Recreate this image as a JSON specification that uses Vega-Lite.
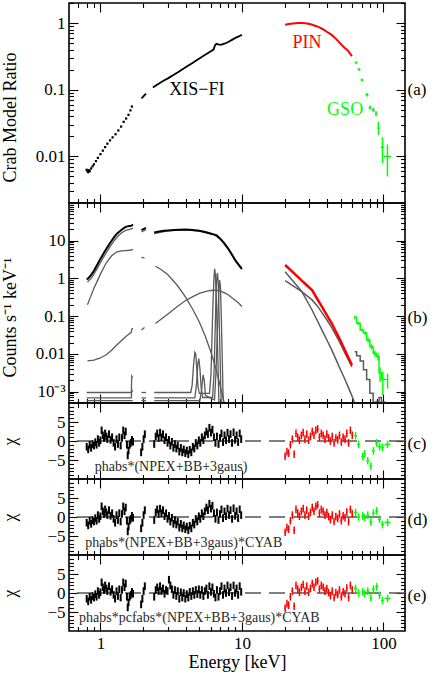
{
"$schema": "https://vega.github.io/schema/vega-lite/v6.json",
"background": "white",
"padding": {"left": 0, "right": 0, "top": 1, "bottom": 0},
"spacing": 0,
"bounds": "flush",
"config": {
  "font": "Liberation Serif",
  "text": {"font": "Liberation Serif"},
  "view": {"stroke": "black", "strokeWidth": 1.6},
  "concat": {"spacing": 0},
  "axis": {"domain": false, "grid": false, "tickColor": "black", "tickWidth": 1.1, "labelColor": "black", "labelFontSize": 17, "labelFont": "Liberation Serif", "titleFont": "Liberation Serif", "titleFontSize": 18, "titleFontWeight": "normal", "titleColor": "black"},
  "axisX": {"labelFont": "Liberation Serif", "titleFont": "Liberation Serif"},
  "axisY": {"labelFont": "Liberation Serif", "titleFont": "Liberation Serif"}
},
"datasets": {
  "xa": [
    {"E":0.80,"r":0.0063,"seg":1},{"E":0.81,"r":0.0060,"seg":1},{"E":0.82,"r":0.0058,"seg":1},{"E":0.83,"r":0.0062,"seg":1},{"E":0.84,"r":0.0060,"seg":1},{"E":0.86,"r":0.0066,"seg":1},{"E":0.88,"r":0.0071,"seg":1},{"E":0.90,"r":0.0076,"seg":1},{"E":0.93,"r":0.0085,"seg":1},{"E":0.96,"r":0.0095,"seg":1},{"E":1.0,"r":0.0108,"seg":1},{"E":1.04,"r":0.0122,"seg":1},{"E":1.08,"r":0.0138,"seg":1},{"E":1.12,"r":0.0155,"seg":1},{"E":1.17,"r":0.0174,"seg":1},{"E":1.22,"r":0.0193,"seg":1},{"E":1.28,"r":0.0215,"seg":1},{"E":1.34,"r":0.0245,"seg":1},{"E":1.40,"r":0.028,"seg":1},{"E":1.46,"r":0.033,"seg":1},{"E":1.52,"r":0.037,"seg":1},{"E":1.58,"r":0.042,"seg":1},{"E":1.63,"r":0.049,"seg":1},{"E":1.67,"r":0.056,"seg":1},
    {"E":1.95,"r":0.074,"seg":2},{"E":2.0,"r":0.078,"seg":2},{"E":2.05,"r":0.083,"seg":2},{"E":2.1,"r":0.087,"seg":2},
    {"E":2.35,"r":0.108,"seg":3},{"E":2.5,"r":0.118,"seg":3},{"E":2.75,"r":0.134,"seg":3},{"E":3.0,"r":0.148,"seg":3},{"E":3.3,"r":0.168,"seg":3},{"E":3.6,"r":0.188,"seg":3},{"E":4.0,"r":0.217,"seg":3},{"E":4.5,"r":0.254,"seg":3},{"E":5.0,"r":0.293,"seg":3},{"E":5.5,"r":0.334,"seg":3},{"E":6.0,"r":0.375,"seg":3},{"E":6.3,"r":0.40,"seg":3},{"E":6.45,"r":0.46,"seg":3},{"E":6.6,"r":0.49,"seg":3},{"E":6.8,"r":0.48,"seg":3},{"E":7.1,"r":0.47,"seg":3},{"E":7.5,"r":0.49,"seg":3},{"E":8.0,"r":0.52,"seg":3},{"E":8.5,"r":0.56,"seg":3},{"E":9.0,"r":0.60,"seg":3},{"E":9.5,"r":0.63,"seg":3},{"E":10.0,"r":0.67,"seg":3}
  ],
  "pa": [
    {"E":20.2,"r":0.945},{"E":21,"r":0.96},{"E":22,"r":0.975},{"E":23,"r":0.988},{"E":24,"r":0.995},{"E":25,"r":1.0},{"E":26.5,"r":1.0},{"E":28,"r":0.99},{"E":29.5,"r":0.975},{"E":31,"r":0.95},{"E":32.5,"r":0.92},{"E":34,"r":0.89},{"E":35.5,"r":0.855},{"E":37,"r":0.815},{"E":38.5,"r":0.775},{"E":40,"r":0.735},{"E":41.5,"r":0.70},{"E":43,"r":0.665},{"E":44.5,"r":0.625},{"E":46,"r":0.585},{"E":47.5,"r":0.545},{"E":49,"r":0.51},{"E":50.5,"r":0.475},{"E":52,"r":0.445},{"E":53.5,"r":0.42},{"E":55,"r":0.40},{"E":56.5,"r":0.38},{"E":58,"r":0.35},{"E":59.9,"r":0.32}
  ],
  "ga": [
    {"E":64.1,"lo":62.6,"hi":65.6,"r":0.255,"rlo":0.245,"rhi":0.265},
    {"E":67.3,"lo":65.6,"hi":69.0,"r":0.202,"rlo":0.192,"rhi":0.212},
    {"E":70.3,"lo":69.0,"hi":72.0,"r":0.14,"rlo":0.133,"rhi":0.148},
    {"E":76.6,"lo":74.5,"hi":78.5,"r":0.084,"rlo":0.079,"rhi":0.089},
    {"E":80.4,"lo":78.5,"hi":82.5,"r":0.054,"rlo":0.050,"rhi":0.058},
    {"E":84.9,"lo":82.5,"hi":87.0,"r":0.050,"rlo":0.046,"rhi":0.054},
    {"E":88.6,"lo":87.0,"hi":90.5,"r":0.044,"rlo":0.040,"rhi":0.048},
    {"E":92.2,"lo":90.5,"hi":94.0,"r":0.0267,"rlo":0.021,"rhi":0.033},
    {"E":98.4,"lo":95.5,"hi":101.5,"r":0.0137,"rlo":0.0079,"rhi":0.0194},
    {"E":106.7,"lo":100.5,"hi":113,"r":0.010,"rlo":0.0050,"rhi":0.0151}
  ],
  "xb": [
    {"E":0.80,"c":0.95,"seg":1},{"E":0.82,"c":1.0,"seg":1},{"E":0.86,"c":1.25,"seg":1},{"E":0.9,"c":1.6,"seg":1},{"E":0.95,"c":2.3,"seg":1},{"E":1.0,"c":3.3,"seg":1},{"E":1.05,"c":4.5,"seg":1},{"E":1.1,"c":6.0,"seg":1},{"E":1.15,"c":7.8,"seg":1},{"E":1.2,"c":10,"seg":1},{"E":1.25,"c":12.5,"seg":1},{"E":1.3,"c":15,"seg":1},{"E":1.35,"c":17,"seg":1},{"E":1.4,"c":19,"seg":1},{"E":1.45,"c":21,"seg":1},{"E":1.5,"c":23,"seg":1},{"E":1.55,"c":24,"seg":1},{"E":1.6,"c":24.5,"seg":1},{"E":1.65,"c":25,"seg":1},{"E":1.7,"c":27,"seg":1},
    {"E":1.95,"c":19,"seg":2},{"E":2.0,"c":20,"seg":2},{"E":2.05,"c":21,"seg":2},{"E":2.1,"c":22,"seg":2},
    {"E":2.4,"c":16.5,"seg":3},{"E":2.6,"c":17.5,"seg":3},{"E":2.8,"c":18.3,"seg":3},{"E":3.0,"c":18.8,"seg":3},{"E":3.3,"c":19.3,"seg":3},{"E":3.6,"c":19.6,"seg":3},{"E":4.0,"c":19.7,"seg":3},{"E":4.5,"c":19.3,"seg":3},{"E":5.0,"c":18.3,"seg":3},{"E":5.5,"c":17,"seg":3},{"E":6.0,"c":15.5,"seg":3},{"E":6.4,"c":14.5,"seg":3},{"E":6.6,"c":14,"seg":3},{"E":7.0,"c":11.5,"seg":3},{"E":7.5,"c":8.6,"seg":3},{"E":8.0,"c":6.2,"seg":3},{"E":8.5,"c":4.3,"seg":3},{"E":9.0,"c":3.0,"seg":3},{"E":9.5,"c":2.3,"seg":3},{"E":10,"c":1.8,"seg":3}
  ],
  "mb": [
    {"comp":"npex1","seg":1,"E":0.81,"c":0.8},{"comp":"npex1","seg":1,"E":0.86,"c":1.0},{"comp":"npex1","seg":1,"E":0.9,"c":1.3},{"comp":"npex1","seg":1,"E":0.95,"c":1.85},{"comp":"npex1","seg":1,"E":1.0,"c":2.6},{"comp":"npex1","seg":1,"E":1.05,"c":3.6},{"comp":"npex1","seg":1,"E":1.1,"c":4.8},{"comp":"npex1","seg":1,"E":1.15,"c":6.3},{"comp":"npex1","seg":1,"E":1.2,"c":8.0},{"comp":"npex1","seg":1,"E":1.25,"c":10},{"comp":"npex1","seg":1,"E":1.3,"c":12},{"comp":"npex1","seg":1,"E":1.35,"c":14},{"comp":"npex1","seg":1,"E":1.4,"c":15.8},{"comp":"npex1","seg":1,"E":1.45,"c":17.3},{"comp":"npex1","seg":1,"E":1.5,"c":18.5},{"comp":"npex1","seg":1,"E":1.55,"c":19.3},{"comp":"npex1","seg":1,"E":1.6,"c":20},{"comp":"npex1","seg":1,"E":1.65,"c":20.5},{"comp":"npex1","seg":1,"E":1.7,"c":21.5},
    {"comp":"npex1","seg":2,"E":1.95,"c":17},{"comp":"npex1","seg":2,"E":2.1,"c":19.5},
    {"comp":"npex1","seg":3,"E":2.4,"c":15.5},{"comp":"npex1","seg":3,"E":3.0,"c":18.2},{"comp":"npex1","seg":3,"E":4.0,"c":19.4},{"comp":"npex1","seg":3,"E":5.0,"c":18.0},{"comp":"npex1","seg":3,"E":6.0,"c":15.2},{"comp":"npex1","seg":3,"E":6.4,"c":14.2},{"comp":"npex1","seg":3,"E":7.0,"c":11.2},{"comp":"npex1","seg":3,"E":8.0,"c":6.0},{"comp":"npex1","seg":3,"E":9.0,"c":2.9},{"comp":"npex1","seg":3,"E":10,"c":1.75},
    {"comp":"bb","seg":1,"E":0.81,"c":0.2},{"comp":"bb","seg":1,"E":0.85,"c":0.32},{"comp":"bb","seg":1,"E":0.9,"c":0.55},{"comp":"bb","seg":1,"E":0.95,"c":0.85},{"comp":"bb","seg":1,"E":1.0,"c":1.3},{"comp":"bb","seg":1,"E":1.1,"c":2.6},{"comp":"bb","seg":1,"E":1.2,"c":4.0},{"comp":"bb","seg":1,"E":1.3,"c":5.0},{"comp":"bb","seg":1,"E":1.4,"c":5.4},{"comp":"bb","seg":1,"E":1.5,"c":5.5},{"comp":"bb","seg":1,"E":1.6,"c":5.6},{"comp":"bb","seg":1,"E":1.7,"c":5.8},
    {"comp":"bb","seg":2,"E":1.95,"c":3.6},{"comp":"bb","seg":2,"E":2.05,"c":3.5},
    {"comp":"bb","seg":3,"E":2.45,"c":2.1},{"comp":"bb","seg":3,"E":2.7,"c":1.7},{"comp":"bb","seg":3,"E":3.0,"c":1.25},{"comp":"bb","seg":3,"E":3.5,"c":0.65},{"comp":"bb","seg":3,"E":4.0,"c":0.32},{"comp":"bb","seg":3,"E":4.5,"c":0.15},{"comp":"bb","seg":3,"E":5.0,"c":0.07},{"comp":"bb","seg":3,"E":5.5,"c":0.03},{"comp":"bb","seg":3,"E":6.0,"c":0.012},{"comp":"bb","seg":3,"E":6.5,"c":0.0045},{"comp":"bb","seg":3,"E":7.0,"c":0.0015},{"comp":"bb","seg":3,"E":7.5,"c":0.0005},{"comp":"bb","seg":3,"E":8.0,"c":0.00015},
    {"comp":"npex2","seg":1,"E":0.81,"c":0.0065},{"comp":"npex2","seg":1,"E":0.9,"c":0.0068},{"comp":"npex2","seg":1,"E":1.0,"c":0.0078},{"comp":"npex2","seg":1,"E":1.1,"c":0.0095},{"comp":"npex2","seg":1,"E":1.2,"c":0.0125},{"comp":"npex2","seg":1,"E":1.3,"c":0.017},{"comp":"npex2","seg":1,"E":1.4,"c":0.022},{"comp":"npex2","seg":1,"E":1.5,"c":0.028},{"comp":"npex2","seg":1,"E":1.6,"c":0.034},{"comp":"npex2","seg":1,"E":1.65,"c":0.037},{"comp":"npex2","seg":1,"E":1.67,"c":0.046},{"comp":"npex2","seg":1,"E":1.7,"c":0.048},
    {"comp":"npex2","seg":2,"E":1.95,"c":0.043},{"comp":"npex2","seg":2,"E":2.05,"c":0.05},
    {"comp":"npex2","seg":3,"E":2.45,"c":0.064},{"comp":"npex2","seg":3,"E":3.0,"c":0.115},{"comp":"npex2","seg":3,"E":3.5,"c":0.18},{"comp":"npex2","seg":3,"E":4.0,"c":0.26},{"comp":"npex2","seg":3,"E":4.5,"c":0.33},{"comp":"npex2","seg":3,"E":5.0,"c":0.40},{"comp":"npex2","seg":3,"E":5.5,"c":0.45},{"comp":"npex2","seg":3,"E":6.0,"c":0.48},{"comp":"npex2","seg":3,"E":6.5,"c":0.49},{"comp":"npex2","seg":3,"E":7.0,"c":0.47},{"comp":"npex2","seg":3,"E":7.5,"c":0.42},{"comp":"npex2","seg":3,"E":8.0,"c":0.37},{"comp":"npex2","seg":3,"E":8.5,"c":0.31},{"comp":"npex2","seg":3,"E":9.0,"c":0.26},{"comp":"npex2","seg":3,"E":9.5,"c":0.22},{"comp":"npex2","seg":3,"E":10,"c":0.18},
    {"comp":"g1","seg":1,"E":0.8,"c":0.00095},{"comp":"g1","seg":1,"E":1.655,"c":0.00095},{"comp":"g1","seg":1,"E":1.665,"c":0.0026},{"comp":"g1","seg":1,"E":1.69,"c":0.0024},
    {"comp":"g1","seg":2,"E":1.95,"c":0.00095},{"comp":"g1","seg":2,"E":2.1,"c":0.00095},
    {"comp":"g1","seg":3,"E":2.4,"c":0.00095},{"comp":"g1","seg":3,"E":4.35,"c":0.00095},{"comp":"g1","seg":3,"E":4.45,"c":0.0015},{"comp":"g1","seg":3,"E":4.55,"c":0.005},{"comp":"g1","seg":3,"E":4.65,"c":0.011},{"comp":"g1","seg":3,"E":4.72,"c":0.01},{"comp":"g1","seg":3,"E":4.8,"c":0.004},{"comp":"g1","seg":3,"E":4.9,"c":0.0013},{"comp":"g1","seg":3,"E":5.0,"c":0.0009},{"comp":"g1","seg":3,"E":5.9,"c":0.0009},{"comp":"g1","seg":3,"E":6.05,"c":0.003},{"comp":"g1","seg":3,"E":6.15,"c":0.03},{"comp":"g1","seg":3,"E":6.25,"c":0.25},{"comp":"g1","seg":3,"E":6.35,"c":1.1},{"comp":"g1","seg":3,"E":6.42,"c":1.8},{"comp":"g1","seg":3,"E":6.5,"c":1.2},{"comp":"g1","seg":3,"E":6.6,"c":0.25},{"comp":"g1","seg":3,"E":6.7,"c":0.03},{"comp":"g1","seg":3,"E":6.8,"c":0.003},{"comp":"g1","seg":3,"E":6.9,"c":0.0003},
    {"comp":"g2","seg":1,"E":0.8,"c":0.00068},{"comp":"g2","seg":1,"E":1.655,"c":0.00068},{"comp":"g2","seg":1,"E":1.665,"c":0.0011},{"comp":"g2","seg":1,"E":1.69,"c":0.001},
    {"comp":"g2","seg":2,"E":1.95,"c":0.00068},{"comp":"g2","seg":2,"E":2.1,"c":0.00068},
    {"comp":"g2","seg":3,"E":2.4,"c":0.00068},{"comp":"g2","seg":3,"E":4.65,"c":0.00068},{"comp":"g2","seg":3,"E":4.78,"c":0.0016},{"comp":"g2","seg":3,"E":4.88,"c":0.0055},{"comp":"g2","seg":3,"E":4.96,"c":0.0075},{"comp":"g2","seg":3,"E":5.05,"c":0.004},{"comp":"g2","seg":3,"E":5.15,"c":0.0013},{"comp":"g2","seg":3,"E":5.28,"c":0.0007},{"comp":"g2","seg":3,"E":6.2,"c":0.0007},{"comp":"g2","seg":3,"E":6.35,"c":0.003},{"comp":"g2","seg":3,"E":6.48,"c":0.05},{"comp":"g2","seg":3,"E":6.58,"c":0.5},{"comp":"g2","seg":3,"E":6.66,"c":1.2},{"comp":"g2","seg":3,"E":6.72,"c":1.4},{"comp":"g2","seg":3,"E":6.8,"c":0.8},{"comp":"g2","seg":3,"E":6.9,"c":0.1},{"comp":"g2","seg":3,"E":7.0,"c":0.01},{"comp":"g2","seg":3,"E":7.1,"c":0.001},{"comp":"g2","seg":3,"E":7.2,"c":0.0002},
    {"comp":"g3","seg":1,"E":0.8,"c":0.00058},{"comp":"g3","seg":1,"E":1.69,"c":0.00058},
    {"comp":"g3","seg":2,"E":1.95,"c":0.00058},{"comp":"g3","seg":2,"E":2.1,"c":0.00058},
    {"comp":"g3","seg":3,"E":2.4,"c":0.00058},{"comp":"g3","seg":3,"E":5.05,"c":0.00058},{"comp":"g3","seg":3,"E":5.2,"c":0.0012},{"comp":"g3","seg":3,"E":5.32,"c":0.0028},{"comp":"g3","seg":3,"E":5.42,"c":0.002},{"comp":"g3","seg":3,"E":5.52,"c":0.0008},{"comp":"g3","seg":3,"E":6.4,"c":0.0006},{"comp":"g3","seg":3,"E":6.55,"c":0.003},{"comp":"g3","seg":3,"E":6.72,"c":0.05},{"comp":"g3","seg":3,"E":6.86,"c":0.4},{"comp":"g3","seg":3,"E":6.96,"c":0.9},{"comp":"g3","seg":3,"E":7.05,"c":0.6},{"comp":"g3","seg":3,"E":7.15,"c":0.1},{"comp":"g3","seg":3,"E":7.25,"c":0.01},{"comp":"g3","seg":3,"E":7.35,"c":0.001},{"comp":"g3","seg":3,"E":7.45,"c":0.0002}
  ],
  "pb": [
    {"E":20.2,"c":2.27},{"E":22,"c":1.68},{"E":24,"c":1.24},{"E":26.5,"c":0.88},{"E":29,"c":0.64},{"E":31.3,"c":0.49},{"E":34,"c":0.29},{"E":37,"c":0.171},{"E":40,"c":0.104},{"E":43.1,"c":0.065},{"E":46,"c":0.040},{"E":48.5,"c":0.027},{"E":50.8,"c":0.0189},{"E":55,"c":0.010},{"E":59.9,"c":0.0051}
  ],
  "pm": [
    {"comp":"p1","E":20.2,"c":1.5},{"comp":"p1","E":22,"c":1.03},{"comp":"p1","E":24,"c":0.70},{"comp":"p1","E":26.5,"c":0.45},{"comp":"p1","E":29,"c":0.245},{"comp":"p1","E":31.3,"c":0.146},{"comp":"p1","E":34,"c":0.078},{"comp":"p1","E":37,"c":0.041},{"comp":"p1","E":40,"c":0.0227},{"comp":"p1","E":43.1,"c":0.0128},{"comp":"p1","E":46,"c":0.0074},{"comp":"p1","E":49,"c":0.0043},{"comp":"p1","E":53.5,"c":0.0021},{"comp":"p1","E":57,"c":0.0012},{"comp":"p1","E":61.5,"c":0.0006},{"comp":"p1","E":63,"c":0.00045},
    {"comp":"p2","E":20.2,"c":0.87},{"comp":"p2","E":22,"c":0.71},{"comp":"p2","E":24,"c":0.575},{"comp":"p2","E":26.5,"c":0.45},{"comp":"p2","E":29,"c":0.34},{"comp":"p2","E":31.3,"c":0.27},{"comp":"p2","E":34,"c":0.19},{"comp":"p2","E":37,"c":0.12},{"comp":"p2","E":40,"c":0.078},{"comp":"p2","E":43.1,"c":0.05},{"comp":"p2","E":46,"c":0.032},{"comp":"p2","E":48.5,"c":0.022},{"comp":"p2","E":50.8,"c":0.0155},{"comp":"p2","E":55,"c":0.0085},{"comp":"p2","E":59.9,"c":0.0045}
  ],
  "gb": [
    {"E":62.6,"c":0.0935,"clo":0.086,"chi":0.101},
    {"E":66.7,"c":0.065,"clo":0.059,"chi":0.071},
    {"E":70.3,"c":0.043,"clo":0.039,"chi":0.047},
    {"E":74.2,"c":0.0357,"clo":0.032,"chi":0.040},
    {"E":78.0,"c":0.0235,"clo":0.020,"chi":0.027},
    {"E":82.3,"c":0.0156,"clo":0.013,"chi":0.018},
    {"E":86.9,"c":0.0104,"clo":0.0085,"chi":0.0123},
    {"E":91.6,"c":0.0085,"clo":0.0068,"chi":0.0102},
    {"E":94.6,"c":0.0031,"clo":0.0018,"chi":0.0044},
    {"E":99.0,"c":0.0021,"clo":0.0008,"chi":0.0034},
    {"E":107.0,"c":0.0021,"clo":0.0012,"chi":0.003}
  ],
  "gm": [
    {"E":62.6,"c":0.0114},{"E":66.7,"c":0.009},{"E":70.3,"c":0.0065},{"E":74.2,"c":0.0038},{"E":78.0,"c":0.0021},{"E":82.3,"c":0.0009},{"E":86.9,"c":0.00052},{"E":91.6,"c":0.00055},{"E":94.6,"c":0.0007},{"E":99.0,"c":0.00052},{"E":107.0,"c":0.0004}
  ],
  "rx": [
    {"E":0.80,"c":-1.5,"e":-1.5,"s":1},{"E":0.82,"c":-2.2,"e":-2.2,"s":1},{"E":0.84,"c":-1.0,"e":-1.0,"s":1},{"E":0.86,"c":-1.8,"e":-1.8,"s":1},{"E":0.88,"c":-0.8,"e":-0.8,"s":1},{"E":0.90,"c":-1.2,"e":-1.2,"s":1},{"E":0.92,"c":-0.3,"e":-0.3,"s":1},{"E":0.94,"c":-1.0,"e":-1.0,"s":1},{"E":0.96,"c":0.5,"e":0.5,"s":1},{"E":0.98,"c":-0.5,"e":-0.5,"s":1},
    {"E":1.00,"c":0.2,"e":0.2,"s":1},{"E":1.02,"c":2.8,"e":2.8,"s":1},{"E":1.04,"c":1.5,"e":1.5,"s":1},{"E":1.06,"c":0.8,"e":0.8,"s":1},{"E":1.08,"c":2.0,"e":2.0,"s":1},{"E":1.10,"c":1.2,"e":1.2,"s":1},{"E":1.12,"c":0.5,"e":0.5,"s":1},{"E":1.15,"c":1.8,"e":1.8,"s":1},{"E":1.18,"c":0.3,"e":0.3,"s":1},{"E":1.21,"c":1.0,"e":1.0,"s":1},
    {"E":1.24,"c":-0.5,"e":-0.5,"s":1},{"E":1.27,"c":-1.5,"e":-1.5,"s":1},{"E":1.30,"c":0.5,"e":0.5,"s":1},{"E":1.33,"c":-0.8,"e":-0.8,"s":1},{"E":1.36,"c":1.0,"e":1.0,"s":1},{"E":1.39,"c":-1.2,"e":-1.2,"s":1},{"E":1.42,"c":0.8,"e":0.8,"s":1},{"E":1.45,"c":2.8,"e":2.8,"s":1},{"E":1.48,"c":1.5,"e":1.5,"s":1},{"E":1.51,"c":2.5,"e":2.5,"s":1},
    {"E":1.54,"c":-1.0,"e":-1.0,"s":1},{"E":1.56,"c":-3.8,"e":-3.8,"s":1},{"E":1.58,"c":-2.5,"e":-2.5,"s":1},{"E":1.61,"c":-1.0,"e":-1.0,"s":1},{"E":1.64,"c":-0.5,"e":-0.5,"s":1},{"E":1.67,"c":0.3,"e":0.3,"s":1},{"E":1.70,"c":-0.2,"e":-0.2,"s":1},
    {"E":1.94,"c":-3.0,"e":-3.0,"s":1},{"E":1.98,"c":-1.5,"e":-1.5,"s":1},{"E":2.02,"c":0.5,"e":0.5,"s":1},{"E":2.06,"c":1.8,"e":1.8,"s":1},
    {"E":2.40,"c":-0.8,"e":-1.0,"s":1},{"E":2.46,"c":1.2,"e":0.8,"s":1},{"E":2.52,"c":2.0,"e":1.5,"s":1},{"E":2.58,"c":0.8,"e":0.5,"s":1},{"E":2.64,"c":2.2,"e":1.8,"s":1},{"E":2.70,"c":1.0,"e":0.5,"s":1},{"E":2.77,"c":1.8,"e":1.2,"s":1},{"E":2.84,"c":0.2,"e":-0.2,"s":1},{"E":2.91,"c":1.0,"e":0.8,"s":1},{"E":2.98,"c":-0.5,"e":0.5,"s":1},
    {"E":3.05,"c":0.3,"e":3.5,"s":1},{"E":3.12,"c":-1.2,"e":2.0,"s":1},{"E":3.20,"c":-0.2,"e":1.0,"s":1},{"E":3.28,"c":-1.8,"e":-0.5,"s":1},{"E":3.36,"c":-0.8,"e":0.8,"s":1},{"E":3.44,"c":-2.0,"e":-0.8,"s":1},{"E":3.52,"c":-1.2,"e":0.5,"s":1},{"E":3.61,"c":-2.8,"e":-1.5,"s":1},{"E":3.70,"c":-1.8,"e":0.2,"s":1},{"E":3.79,"c":-3.0,"e":-1.2,"s":1},
    {"E":3.88,"c":-2.2,"e":0.0,"s":1},{"E":3.98,"c":-3.2,"e":-1.5,"s":1},{"E":4.08,"c":-2.5,"e":-0.3,"s":1},{"E":4.18,"c":-3.5,"e":-1.2,"s":1},{"E":4.28,"c":-2.3,"e":0.3,"s":1},{"E":4.39,"c":-3.0,"e":-0.8,"s":1},{"E":4.50,"c":-1.5,"e":0.5,"s":1},{"E":4.61,"c":-2.0,"e":-0.5,"s":1},{"E":4.72,"c":-0.5,"e":0.8,"s":1},{"E":4.84,"c":-1.2,"e":-0.3,"s":1},
    {"E":4.96,"c":0.2,"e":1.0,"s":1},{"E":5.08,"c":-0.5,"e":-0.5,"s":1},{"E":5.21,"c":1.0,"e":0.8,"s":1},{"E":5.34,"c":0.2,"e":-0.8,"s":1},{"E":5.47,"c":1.5,"e":0.5,"s":1},{"E":5.61,"c":2.5,"e":1.2,"s":1},{"E":5.75,"c":1.8,"e":-0.5,"s":1},{"E":5.89,"c":3.5,"e":1.8,"s":1},{"E":6.04,"c":2.2,"e":0.3,"s":1},{"E":6.19,"c":3.0,"e":1.5,"s":1},
    {"E":6.34,"c":1.0,"e":-0.2,"s":1},{"E":6.50,"c":-0.5,"e":-1.2,"s":1},{"E":6.66,"c":1.2,"e":0.8,"s":1},{"E":6.83,"c":-0.8,"e":-1.0,"s":1},{"E":7.00,"c":0.8,"e":0.5,"s":1},{"E":7.17,"c":2.0,"e":1.8,"s":1},{"E":7.35,"c":-0.3,"e":-0.5,"s":1},{"E":7.53,"c":1.5,"e":1.2,"s":1},{"E":7.72,"c":0.2,"e":0.0,"s":1},{"E":7.91,"c":2.2,"e":2.0,"s":1},
    {"E":8.11,"c":0.5,"e":0.2,"s":1},{"E":8.31,"c":1.8,"e":1.5,"s":1},{"E":8.52,"c":-0.5,"e":-0.8,"s":1},{"E":8.73,"c":2.3,"e":2.0,"s":1},{"E":8.95,"c":0.3,"e":0.0,"s":1},{"E":9.17,"c":1.5,"e":1.2,"s":1},{"E":9.40,"c":-0.3,"e":-0.5,"s":1},{"E":9.64,"c":2.0,"e":1.8,"s":1},{"E":9.88,"c":0.5,"e":0.3,"s":1}
  ],
  "rp": [
    {"E":20.2,"lo":19.9,"hi":20.5,"c":-4.0,"d":-4.0,"s":1},{"E":20.8,"lo":20.5,"hi":21.1,"c":-2.8,"d":-2.8,"s":1},{"E":21.4,"lo":21.1,"hi":21.7,"c":-3.2,"d":-3.2,"s":1},{"E":22.0,"lo":21.7,"hi":22.35,"c":-1.0,"d":-1.0,"s":1},{"E":22.7,"lo":22.35,"hi":23.05,"c":0.5,"d":0.5,"s":1},{"E":23.4,"lo":23.05,"hi":23.75,"c":-3.5,"d":-3.5,"s":1},{"E":24.1,"lo":23.75,"hi":24.45,"c":2.0,"d":2.0,"s":1},{"E":24.8,"lo":24.45,"hi":25.15,"c":1.0,"d":1.0,"s":1},{"E":25.5,"lo":25.15,"hi":25.9,"c":0.2,"d":0.2,"s":1},{"E":26.3,"lo":25.9,"hi":26.7,"c":1.5,"d":1.5,"s":1},
    {"E":27.1,"lo":26.7,"hi":27.5,"c":2.2,"d":2.2,"s":1},{"E":27.9,"lo":27.5,"hi":28.3,"c":0.5,"d":0.5,"s":1},{"E":28.7,"lo":28.3,"hi":29.15,"c":1.8,"d":1.8,"s":1},{"E":29.6,"lo":29.15,"hi":30.05,"c":0.2,"d":0.2,"s":1},{"E":30.5,"lo":30.05,"hi":30.95,"c":1.2,"d":1.2,"s":1},{"E":31.4,"lo":30.95,"hi":31.85,"c":2.5,"d":2.5,"s":1},{"E":32.3,"lo":31.85,"hi":32.8,"c":1.5,"d":1.5,"s":1},{"E":33.3,"lo":32.8,"hi":33.8,"c":2.8,"d":2.8,"s":1},{"E":34.3,"lo":33.8,"hi":34.8,"c":3.2,"d":3.2,"s":1},{"E":35.3,"lo":34.8,"hi":35.85,"c":1.0,"d":1.0,"s":1},
    {"E":36.4,"lo":35.85,"hi":36.95,"c":2.0,"d":2.0,"s":1},{"E":37.5,"lo":36.95,"hi":38.05,"c":1.5,"d":1.5,"s":1},{"E":38.6,"lo":38.05,"hi":39.2,"c":0.5,"d":0.5,"s":1},{"E":39.8,"lo":39.2,"hi":40.4,"c":1.8,"d":1.2,"s":1},{"E":41.0,"lo":40.4,"hi":41.6,"c":0.8,"d":0.1,"s":1},{"E":42.2,"lo":41.6,"hi":42.85,"c":0.0,"d":-0.7,"s":1},{"E":43.5,"lo":42.85,"hi":44.15,"c":1.2,"d":0.5,"s":1},{"E":44.8,"lo":44.15,"hi":45.45,"c":-0.5,"d":-1.2,"s":1},{"E":46.1,"lo":45.45,"hi":46.8,"c":0.8,"d":0.1,"s":1},{"E":47.5,"lo":46.8,"hi":48.2,"c":0.3,"d":-0.4,"s":1},
    {"E":48.9,"lo":48.2,"hi":49.65,"c":1.5,"d":0.8,"s":1},{"E":50.4,"lo":49.65,"hi":51.15,"c":-0.3,"d":-1.0,"s":1},{"E":51.9,"lo":51.15,"hi":52.7,"c":1.0,"d":0.3,"s":1},{"E":53.5,"lo":52.7,"hi":54.3,"c":0.5,"d":-0.2,"s":1},{"E":55.1,"lo":54.3,"hi":55.9,"c":2.0,"d":1.3,"s":1},{"E":56.7,"lo":55.9,"hi":57.55,"c":-0.5,"d":-1.2,"s":1},{"E":58.4,"lo":57.55,"hi":59.3,"c":2.8,"d":2.0,"s":1},{"E":60.2,"lo":59.3,"hi":61.1,"c":1.5,"d":0.8,"s":1}
  ],
  "rg": [
    {"E":63.5,"lo":62.0,"hi":65.0,"c":1.4,"d":1.2,"s":1},
    {"E":66.7,"lo":65.0,"hi":68.5,"c":-0.9,"d":0.0,"s":1},
    {"E":71.4,"lo":69.8,"hi":73.0,"c":-4.1,"d":0.3,"s":1},
    {"E":73.5,"lo":72.0,"hi":75.2,"c":-3.4,"d":-0.2,"s":1},
    {"E":77.5,"lo":75.8,"hi":79.2,"c":-5.2,"d":0.5,"s":1},
    {"E":81.5,"lo":79.6,"hi":83.4,"c":-6.6,"d":-1.3,"s":1},
    {"E":84.9,"lo":83.0,"hi":86.8,"c":-2.6,"d":1.0,"s":1},
    {"E":89.6,"lo":87.5,"hi":91.7,"c":-0.5,"d":1.6,"s":1},
    {"E":93.9,"lo":91.7,"hi":96.1,"c":-1.5,"d":-0.6,"s":1},
    {"E":98.4,"lo":96.1,"hi":100.7,"c":-1.7,"d":-2.0,"s":1},
    {"E":107.0,"lo":102.0,"hi":112.0,"c":-0.9,"d":-1.4,"s":1}
  ]
},
"vconcat": [
  {
    "width": 336, "height": 200,
    "layer": [
      {"data": {"name": "xa"}, "transform": [{"filter": "datum.seg > 1"}],
       "mark": {"type": "line", "color": "black", "strokeWidth": 1.8, "clip": true},
       "encoding": {
         "x": {"field": "E", "type": "quantitative", "scale": {"type": "log", "domain": [0.6, 142], "nice": false}, "axis": {"orient": "bottom", "values": [1, 10, 100], "tickSize": -9, "labels": false, "title": null}},
         "y": {"field": "r", "type": "quantitative", "scale": {"type": "log", "domain": [0.002, 2], "nice": false}, "axis": {"orient": "left", "values": [0.01, 0.1, 1], "tickSize": -9, "labelPadding": 13, "format": "~g", "labelFont": "Liberation Serif", "titleFont": "Liberation Serif", "title": "Crab Model Ratio", "titleX": -50, "titleY": 114}},
         "detail": {"field": "seg"}}},
      {"data": {"name": "xa"}, "transform": [{"filter": "datum.seg == 1"}],
       "mark": {"type": "square", "size": 5, "color": "black", "opacity": 1, "clip": true},
       "encoding": {
         "x": {"field": "E", "type": "quantitative", "scale": {"type": "log", "domain": [0.6, 142], "nice": false}, "axis": null},
         "y": {"field": "r", "type": "quantitative", "scale": {"type": "log", "domain": [0.002, 2], "nice": false}, "axis": null}}},
      {"data": {"name": "pa"},
       "mark": {"type": "line", "color": "#ff0000", "strokeWidth": 2, "clip": true},
       "encoding": {
         "x": {"field": "E", "type": "quantitative", "scale": {"type": "log", "domain": [0.6, 142], "nice": false}, "axis": {"orient": "top", "values": [1, 10, 100], "tickSize": -9, "labels": false, "title": null}},
         "y": {"field": "r", "type": "quantitative", "scale": {"type": "log", "domain": [0.002, 2], "nice": false}, "axis": {"orient": "right", "values": [0.01, 0.1, 1], "tickSize": -9, "labels": false, "title": null}}}},
      {"data": {"name": "ga"},
       "mark": {"type": "rule", "color": "#00ff00", "strokeWidth": 1.5},
       "encoding": {
         "x": {"field": "lo", "type": "quantitative", "scale": {"type": "log", "domain": [0.6, 142], "nice": false}, "axis": {"orient": "bottom", "values": [0.7, 0.8, 0.9, 2, 3, 4, 5, 6, 7, 8, 9, 20, 30, 40, 50, 60, 70, 80, 90], "tickSize": -4.5, "labels": false, "title": null}},
         "x2": {"field": "hi"},
         "y": {"field": "r", "type": "quantitative", "scale": {"type": "log", "domain": [0.002, 2], "nice": false}, "axis": {"orient": "left", "values": [0.002, 0.003, 0.004, 0.005, 0.006, 0.007, 0.008, 0.009, 0.02, 0.03, 0.04, 0.05, 0.06, 0.07, 0.08, 0.09, 0.2, 0.3, 0.4, 0.5, 0.6, 0.7, 0.8, 0.9, 2], "tickSize": -4.5, "labels": false, "title": null}}}},
      {"data": {"name": "ga"},
       "mark": {"type": "rule", "color": "#00ff00", "strokeWidth": 1.5},
       "encoding": {
         "x": {"field": "E", "type": "quantitative", "scale": {"type": "log", "domain": [0.6, 142], "nice": false}, "axis": {"orient": "top", "values": [0.7, 0.8, 0.9, 2, 3, 4, 5, 6, 7, 8, 9, 20, 30, 40, 50, 60, 70, 80, 90], "tickSize": -4.5, "labels": false, "title": null}},
         "y": {"field": "rlo", "type": "quantitative", "scale": {"type": "log", "domain": [0.002, 2], "nice": false}, "axis": {"orient": "right", "values": [0.002, 0.003, 0.004, 0.005, 0.006, 0.007, 0.008, 0.009, 0.02, 0.03, 0.04, 0.05, 0.06, 0.07, 0.08, 0.09, 0.2, 0.3, 0.4, 0.5, 0.6, 0.7, 0.8, 0.9, 2], "tickSize": -4.5, "labels": false, "title": null}},
         "y2": {"field": "rhi"}}},
      {"data": {"values": [{"t": "XIS−FI"}]},
       "mark": {"type": "text", "font": "Liberation Serif", "fontSize": 18, "color": "black", "align": "center", "baseline": "middle"},
       "encoding": {"x": {"datum": 4.8, "type": "quantitative", "scale": {"type": "log", "domain": [0.6, 142], "nice": false}, "axis": null}, "y": {"datum": 0.098, "type": "quantitative", "scale": {"type": "log", "domain": [0.002, 2], "nice": false}, "axis": null}, "text": {"field": "t"}}},
      {"data": {"values": [{"t": "PIN"}]},
       "mark": {"type": "text", "font": "Liberation Serif", "fontSize": 18, "color": "#ff0000", "align": "center", "baseline": "middle"},
       "encoding": {"x": {"datum": 28.8, "type": "quantitative", "scale": {"type": "log", "domain": [0.6, 142], "nice": false}, "axis": null}, "y": {"datum": 0.5, "type": "quantitative", "scale": {"type": "log", "domain": [0.002, 2], "nice": false}, "axis": null}, "text": {"field": "t"}}},
      {"data": {"values": [{"t": "GSO"}]},
       "mark": {"type": "text", "font": "Liberation Serif", "fontSize": 18, "color": "#00ff00", "align": "center", "baseline": "middle"},
       "encoding": {"x": {"datum": 53.6, "type": "quantitative", "scale": {"type": "log", "domain": [0.6, 142], "nice": false}, "axis": null}, "y": {"datum": 0.049, "type": "quantitative", "scale": {"type": "log", "domain": [0.002, 2], "nice": false}, "axis": null}, "text": {"field": "t"}}},
      {"data": {"values": [{"t": "(a)"}]},
       "mark": {"type": "text", "font": "Liberation Serif", "fontSize": 17, "color": "black", "align": "left", "baseline": "middle"},
       "encoding": {"x": {"datum": 148, "type": "quantitative", "scale": {"type": "log", "domain": [0.6, 142], "nice": false}, "axis": null}, "y": {"datum": 0.1, "type": "quantitative", "scale": {"type": "log", "domain": [0.002, 2], "nice": false}, "axis": null}, "text": {"field": "t"}}}
    ],
    "resolve": {"axis": {"x": "independent", "y": "independent"}}
  },
  {
    "width": 336, "height": 200,
    "layer": [
      {"data": {"name": "mb"},
       "mark": {"type": "line", "color": "#5a5a5a", "strokeWidth": 1.3, "clip": true},
       "encoding": {
         "x": {"field": "E", "type": "quantitative", "scale": {"type": "log", "domain": [0.6, 142], "nice": false}, "axis": {"orient": "top", "values": [1, 10, 100], "tickSize": -9, "labels": false, "title": null}},
         "y": {"field": "c", "type": "quantitative", "scale": {"type": "log", "domain": [0.0005, 100], "nice": false}, "axis": {"orient": "right", "values": [0.001, 0.01, 0.1, 1, 10], "tickSize": -9, "labels": false, "title": null}},
         "detail": [{"field": "comp"}, {"field": "seg"}]}},
      {"data": {"name": "xb"},
       "mark": {"type": "line", "color": "black", "strokeWidth": 2, "clip": true},
       "encoding": {
         "x": {"field": "E", "type": "quantitative", "scale": {"type": "log", "domain": [0.6, 142], "nice": false}, "axis": {"orient": "bottom", "values": [1, 10, 100], "tickSize": -9, "labels": false, "title": null}},
         "y": {"field": "c", "type": "quantitative", "scale": {"type": "log", "domain": [0.0005, 100], "nice": false}, "axis": {"orient": "left", "values": [0.001, 0.01, 0.1, 1, 10], "tickSize": -9, "labelPadding": 13, "labelFont": "Liberation Serif", "titleFont": "Liberation Serif", "labelExpr": "datum.value < 0.005 ? '10⁻³' : format(datum.value, '~g')", "title": "Counts s⁻¹ keV⁻¹", "titleX": -50, "titleY": 114}},
         "detail": {"field": "seg"}}},
      {"data": {"name": "pm"},
       "mark": {"type": "line", "color": "#5a5a5a", "strokeWidth": 1.5, "clip": true},
       "encoding": {
         "x": {"field": "E", "type": "quantitative", "scale": {"type": "log", "domain": [0.6, 142], "nice": false}, "axis": {"orient": "top", "values": [0.7, 0.8, 0.9, 2, 3, 4, 5, 6, 7, 8, 9, 20, 30, 40, 50, 60, 70, 80, 90], "tickSize": -4.5, "labels": false, "title": null}},
         "y": {"field": "c", "type": "quantitative", "scale": {"type": "log", "domain": [0.0005, 100], "nice": false}, "axis": {"orient": "right", "values": [0.0006, 0.0007, 0.0008, 0.0009, 0.002, 0.003, 0.004, 0.005, 0.006, 0.007, 0.008, 0.009, 0.02, 0.03, 0.04, 0.05, 0.06, 0.07, 0.08, 0.09, 0.2, 0.3, 0.4, 0.5, 0.6, 0.7, 0.8, 0.9, 2, 3, 4, 5, 6, 7, 8, 9, 20, 30, 40, 50, 60, 70, 80, 90], "tickSize": -4.5, "labels": false, "title": null}},
         "detail": {"field": "comp"}}},
      {"data": {"name": "pb"},
       "mark": {"type": "line", "color": "#ff0000", "strokeWidth": 2.5, "clip": true},
       "encoding": {
         "x": {"field": "E", "type": "quantitative", "scale": {"type": "log", "domain": [0.6, 142], "nice": false}, "axis": {"orient": "bottom", "values": [0.7, 0.8, 0.9, 2, 3, 4, 5, 6, 7, 8, 9, 20, 30, 40, 50, 60, 70, 80, 90], "tickSize": -4.5, "labels": false, "title": null}},
         "y": {"field": "c", "type": "quantitative", "scale": {"type": "log", "domain": [0.0005, 100], "nice": false}, "axis": {"orient": "left", "values": [0.0006, 0.0007, 0.0008, 0.0009, 0.002, 0.003, 0.004, 0.005, 0.006, 0.007, 0.008, 0.009, 0.02, 0.03, 0.04, 0.05, 0.06, 0.07, 0.08, 0.09, 0.2, 0.3, 0.4, 0.5, 0.6, 0.7, 0.8, 0.9, 2, 3, 4, 5, 6, 7, 8, 9, 20, 30, 40, 50, 60, 70, 80, 90], "tickSize": -4.5, "labels": false, "title": null}}}},
      {"data": {"name": "gm"},
       "mark": {"type": "line", "color": "#5a5a5a", "strokeWidth": 1.5, "interpolate": "step", "clip": true},
       "encoding": {
         "x": {"field": "E", "type": "quantitative", "scale": {"type": "log", "domain": [0.6, 142], "nice": false}, "axis": null},
         "y": {"field": "c", "type": "quantitative", "scale": {"type": "log", "domain": [0.0005, 100], "nice": false}, "axis": null}}},
      {"data": {"name": "gb"},
       "mark": {"type": "line", "color": "#00ff00", "strokeWidth": 1.5, "interpolate": "step", "clip": true},
       "encoding": {
         "x": {"field": "E", "type": "quantitative", "scale": {"type": "log", "domain": [0.6, 142], "nice": false}, "axis": null},
         "y": {"field": "c", "type": "quantitative", "scale": {"type": "log", "domain": [0.0005, 100], "nice": false}, "axis": null}}},
      {"data": {"name": "gb"},
       "mark": {"type": "rule", "color": "#00ff00", "strokeWidth": 1.5, "clip": true},
       "encoding": {
         "x": {"field": "E", "type": "quantitative", "scale": {"type": "log", "domain": [0.6, 142], "nice": false}, "axis": null},
         "y": {"field": "clo", "type": "quantitative", "scale": {"type": "log", "domain": [0.0005, 100], "nice": false}, "axis": null},
         "y2": {"field": "chi"}}},
      {"data": {"values": [{"t": "(b)"}]},
       "mark": {"type": "text", "font": "Liberation Serif", "fontSize": 17, "color": "black", "align": "left", "baseline": "middle"},
       "encoding": {"x": {"datum": 148, "type": "quantitative", "scale": {"type": "log", "domain": [0.6, 142], "nice": false}, "axis": null}, "y": {"datum": 0.09, "type": "quantitative", "scale": {"type": "log", "domain": [0.0005, 100], "nice": false}, "axis": null}, "text": {"field": "t"}}}
    ],
    "resolve": {"axis": {"x": "independent", "y": "independent"}}
  },
  {
    "width": 336, "height": 76,
    "layer": [
      {"data": {"values": [{"z": 0}]},
       "mark": {"type": "rule", "color": "#555555", "strokeWidth": 1.6, "strokeDash": [16, 8]},
       "encoding": {"y": {"field": "z", "type": "quantitative", "scale": {"domain": [-10, 10], "nice": false, "zero": false}, "axis": null}}},
      {"data": {"name": "rx"},
       "mark": {"type": "errorbar", "color": "black", "thickness": 2},
       "encoding": {
         "x": {"field": "E", "type": "quantitative", "scale": {"type": "log", "domain": [0.6, 142], "nice": false}, "axis": null},
         "y": {"field": "c", "type": "quantitative", "scale": {"domain": [-10, 10], "nice": false, "zero": false}, "axis": null},
         "yError": {"field": "s"}}},
      {"data": {"name": "rp"},
       "mark": {"type": "rule", "color": "#ff0000", "strokeWidth": 1.3},
       "encoding": {
         "x": {"field": "lo", "type": "quantitative", "scale": {"type": "log", "domain": [0.6, 142], "nice": false}, "axis": {"orient": "bottom", "values": [1, 10, 100], "tickSize": -9, "labels": false, "title": null}},
         "x2": {"field": "hi"},
         "y": {"field": "c", "type": "quantitative", "scale": {"domain": [-10, 10], "nice": false, "zero": false}, "axis": {"orient": "left", "values": [-5, 0, 5], "tickSize": -9, "labelPadding": 13, "labelFont": "Liberation Serif", "titleFont": "Liberation Serif", "title": "χ", "titleX": -50}}}},
      {"data": {"name": "rp"},
       "mark": {"type": "errorbar", "color": "#ff0000", "thickness": 1.5},
       "encoding": {
         "x": {"field": "E", "type": "quantitative", "scale": {"type": "log", "domain": [0.6, 142], "nice": false}, "axis": null},
         "y": {"field": "c", "type": "quantitative", "scale": {"domain": [-10, 10], "nice": false, "zero": false}, "axis": null},
         "yError": {"field": "s"}}},
      {"data": {"name": "rg"},
       "mark": {"type": "rule", "color": "#00ff00", "strokeWidth": 1.5},
       "encoding": {
         "x": {"field": "lo", "type": "quantitative", "scale": {"type": "log", "domain": [0.6, 142], "nice": false}, "axis": {"orient": "top", "values": [1, 10, 100], "tickSize": -9, "labels": false, "title": null}},
         "x2": {"field": "hi"},
         "y": {"field": "c", "type": "quantitative", "scale": {"domain": [-10, 10], "nice": false, "zero": false}, "axis": {"orient": "right", "values": [-5, 0, 5], "tickSize": -9, "labels": false, "title": null}}}},
      {"data": {"name": "rg"},
       "mark": {"type": "errorbar", "color": "#00ff00", "thickness": 1.5},
       "encoding": {
         "x": {"field": "E", "type": "quantitative", "scale": {"type": "log", "domain": [0.6, 142], "nice": false}, "axis": null},
         "y": {"field": "c", "type": "quantitative", "scale": {"domain": [-10, 10], "nice": false, "zero": false}, "axis": null},
         "yError": {"field": "s"}}},
      {"data": {"values": [{"t": "phabs*(NPEX+BB+3gaus)"}]},
       "mark": {"type": "text", "font": "Liberation Serif", "fontSize": 14, "color": "#2a2a2a", "align": "center", "baseline": "middle"},
       "encoding": {
         "x": {"datum": 3.16, "type": "quantitative", "scale": {"type": "log", "domain": [0.6, 142], "nice": false}, "axis": {"orient": "bottom", "values": [0.7, 0.8, 0.9, 2, 3, 4, 5, 6, 7, 8, 9, 20, 30, 40, 50, 60, 70, 80, 90], "tickSize": -4.5, "labels": false, "title": null}},
         "y": {"datum": -6.8, "type": "quantitative", "scale": {"domain": [-10, 10], "nice": false, "zero": false}, "axis": {"orient": "left", "values": [-9, -8, -7, -6, -4, -3, -2, -1, 1, 2, 3, 4, 6, 7, 8, 9], "tickSize": -4.5, "labels": false, "title": null}},
         "text": {"field": "t"}}},
      {"data": {"values": [{"t": "(c)"}]},
       "mark": {"type": "text", "font": "Liberation Serif", "fontSize": 17, "color": "black", "align": "left", "baseline": "middle"},
       "encoding": {
         "x": {"datum": 148, "type": "quantitative", "scale": {"type": "log", "domain": [0.6, 142], "nice": false}, "axis": {"orient": "top", "values": [0.7, 0.8, 0.9, 2, 3, 4, 5, 6, 7, 8, 9, 20, 30, 40, 50, 60, 70, 80, 90], "tickSize": -4.5, "labels": false, "title": null}},
         "y": {"datum": -0.7, "type": "quantitative", "scale": {"domain": [-10, 10], "nice": false, "zero": false}, "axis": {"orient": "right", "values": [-9, -8, -7, -6, -4, -3, -2, -1, 1, 2, 3, 4, 6, 7, 8, 9], "tickSize": -4.5, "labels": false, "title": null}},
         "text": {"field": "t"}}}
    ],
    "resolve": {"axis": {"x": "independent", "y": "independent"}}
  },
  {
    "width": 336, "height": 76,
    "layer": [
      {"data": {"values": [{"z": 0}]},
       "mark": {"type": "rule", "color": "#555555", "strokeWidth": 1.6, "strokeDash": [16, 8]},
       "encoding": {"y": {"field": "z", "type": "quantitative", "scale": {"domain": [-10, 10], "nice": false, "zero": false}, "axis": null}}},
      {"data": {"name": "rx"},
       "mark": {"type": "errorbar", "color": "black", "thickness": 2},
       "encoding": {
         "x": {"field": "E", "type": "quantitative", "scale": {"type": "log", "domain": [0.6, 142], "nice": false}, "axis": null},
         "y": {"field": "c", "type": "quantitative", "scale": {"domain": [-10, 10], "nice": false, "zero": false}, "axis": null},
         "yError": {"field": "s"}}},
      {"data": {"name": "rp"},
       "mark": {"type": "rule", "color": "#ff0000", "strokeWidth": 1.3},
       "encoding": {
         "x": {"field": "lo", "type": "quantitative", "scale": {"type": "log", "domain": [0.6, 142], "nice": false}, "axis": {"orient": "bottom", "values": [1, 10, 100], "tickSize": -9, "labels": false, "title": null}},
         "x2": {"field": "hi"},
         "y": {"field": "d", "type": "quantitative", "scale": {"domain": [-10, 10], "nice": false, "zero": false}, "axis": {"orient": "left", "values": [-5, 0, 5], "tickSize": -9, "labelPadding": 13, "labelFont": "Liberation Serif", "titleFont": "Liberation Serif", "title": "χ", "titleX": -50}}}},
      {"data": {"name": "rp"},
       "mark": {"type": "errorbar", "color": "#ff0000", "thickness": 1.5},
       "encoding": {
         "x": {"field": "E", "type": "quantitative", "scale": {"type": "log", "domain": [0.6, 142], "nice": false}, "axis": null},
         "y": {"field": "d", "type": "quantitative", "scale": {"domain": [-10, 10], "nice": false, "zero": false}, "axis": null},
         "yError": {"field": "s"}}},
      {"data": {"name": "rg"},
       "mark": {"type": "rule", "color": "#00ff00", "strokeWidth": 1.5},
       "encoding": {
         "x": {"field": "lo", "type": "quantitative", "scale": {"type": "log", "domain": [0.6, 142], "nice": false}, "axis": {"orient": "top", "values": [1, 10, 100], "tickSize": -9, "labels": false, "title": null}},
         "x2": {"field": "hi"},
         "y": {"field": "d", "type": "quantitative", "scale": {"domain": [-10, 10], "nice": false, "zero": false}, "axis": {"orient": "right", "values": [-5, 0, 5], "tickSize": -9, "labels": false, "title": null}}}},
      {"data": {"name": "rg"},
       "mark": {"type": "errorbar", "color": "#00ff00", "thickness": 1.5},
       "encoding": {
         "x": {"field": "E", "type": "quantitative", "scale": {"type": "log", "domain": [0.6, 142], "nice": false}, "axis": null},
         "y": {"field": "d", "type": "quantitative", "scale": {"domain": [-10, 10], "nice": false, "zero": false}, "axis": null},
         "yError": {"field": "s"}}},
      {"data": {"values": [{"t": "phabs*(NPEX+BB+3gaus)*CYAB"}]},
       "mark": {"type": "text", "font": "Liberation Serif", "fontSize": 14, "color": "#2a2a2a", "align": "center", "baseline": "middle"},
       "encoding": {
         "x": {"datum": 3.88, "type": "quantitative", "scale": {"type": "log", "domain": [0.6, 142], "nice": false}, "axis": {"orient": "bottom", "values": [0.7, 0.8, 0.9, 2, 3, 4, 5, 6, 7, 8, 9, 20, 30, 40, 50, 60, 70, 80, 90], "tickSize": -4.5, "labels": false, "title": null}},
         "y": {"datum": -6.8, "type": "quantitative", "scale": {"domain": [-10, 10], "nice": false, "zero": false}, "axis": {"orient": "left", "values": [-9, -8, -7, -6, -4, -3, -2, -1, 1, 2, 3, 4, 6, 7, 8, 9], "tickSize": -4.5, "labels": false, "title": null}},
         "text": {"field": "t"}}},
      {"data": {"values": [{"t": "(d)"}]},
       "mark": {"type": "text", "font": "Liberation Serif", "fontSize": 17, "color": "black", "align": "left", "baseline": "middle"},
       "encoding": {
         "x": {"datum": 148, "type": "quantitative", "scale": {"type": "log", "domain": [0.6, 142], "nice": false}, "axis": {"orient": "top", "values": [0.7, 0.8, 0.9, 2, 3, 4, 5, 6, 7, 8, 9, 20, 30, 40, 50, 60, 70, 80, 90], "tickSize": -4.5, "labels": false, "title": null}},
         "y": {"datum": -0.7, "type": "quantitative", "scale": {"domain": [-10, 10], "nice": false, "zero": false}, "axis": {"orient": "right", "values": [-9, -8, -7, -6, -4, -3, -2, -1, 1, 2, 3, 4, 6, 7, 8, 9], "tickSize": -4.5, "labels": false, "title": null}},
         "text": {"field": "t"}}}
    ],
    "resolve": {"axis": {"x": "independent", "y": "independent"}}
  },
  {
    "width": 336, "height": 76,
    "layer": [
      {"data": {"values": [{"z": 0}]},
       "mark": {"type": "rule", "color": "#555555", "strokeWidth": 1.6, "strokeDash": [16, 8]},
       "encoding": {"y": {"field": "z", "type": "quantitative", "scale": {"domain": [-10, 10], "nice": false, "zero": false}, "axis": null}}},
      {"data": {"name": "rx"},
       "mark": {"type": "errorbar", "color": "black", "thickness": 2},
       "encoding": {
         "x": {"field": "E", "type": "quantitative", "scale": {"type": "log", "domain": [0.6, 142], "nice": false}, "axis": null},
         "y": {"field": "e", "type": "quantitative", "scale": {"domain": [-10, 10], "nice": false, "zero": false}, "axis": null},
         "yError": {"field": "s"}}},
      {"data": {"name": "rp"},
       "mark": {"type": "rule", "color": "#ff0000", "strokeWidth": 1.3},
       "encoding": {
         "x": {"field": "lo", "type": "quantitative", "scale": {"type": "log", "domain": [0.6, 142], "nice": false}, "axis": {"orient": "bottom", "values": [1, 10, 100], "tickSize": -9, "labelPadding": 13, "format": "~g", "labelFont": "Liberation Serif", "titleFont": "Liberation Serif", "title": "Energy [keV]", "titlePadding": 2}},
         "x2": {"field": "hi"},
         "y": {"field": "d", "type": "quantitative", "scale": {"domain": [-10, 10], "nice": false, "zero": false}, "axis": {"orient": "left", "values": [-5, 0, 5], "tickSize": -9, "labelPadding": 13, "labelFont": "Liberation Serif", "titleFont": "Liberation Serif", "title": "χ", "titleX": -50}}}},
      {"data": {"name": "rp"},
       "mark": {"type": "errorbar", "color": "#ff0000", "thickness": 1.5},
       "encoding": {
         "x": {"field": "E", "type": "quantitative", "scale": {"type": "log", "domain": [0.6, 142], "nice": false}, "axis": null},
         "y": {"field": "d", "type": "quantitative", "scale": {"domain": [-10, 10], "nice": false, "zero": false}, "axis": null},
         "yError": {"field": "s"}}},
      {"data": {"name": "rg"},
       "mark": {"type": "rule", "color": "#00ff00", "strokeWidth": 1.5},
       "encoding": {
         "x": {"field": "lo", "type": "quantitative", "scale": {"type": "log", "domain": [0.6, 142], "nice": false}, "axis": {"orient": "top", "values": [1, 10, 100], "tickSize": -9, "labels": false, "title": null}},
         "x2": {"field": "hi"},
         "y": {"field": "d", "type": "quantitative", "scale": {"domain": [-10, 10], "nice": false, "zero": false}, "axis": {"orient": "right", "values": [-5, 0, 5], "tickSize": -9, "labels": false, "title": null}}}},
      {"data": {"name": "rg"},
       "mark": {"type": "errorbar", "color": "#00ff00", "thickness": 1.5},
       "encoding": {
         "x": {"field": "E", "type": "quantitative", "scale": {"type": "log", "domain": [0.6, 142], "nice": false}, "axis": null},
         "y": {"field": "d", "type": "quantitative", "scale": {"domain": [-10, 10], "nice": false, "zero": false}, "axis": null},
         "yError": {"field": "s"}}},
      {"data": {"values": [{"t": "phabs*pcfabs*(NPEX+BB+3gaus)*CYAB"}]},
       "mark": {"type": "text", "font": "Liberation Serif", "fontSize": 14, "color": "#2a2a2a", "align": "center", "baseline": "middle"},
       "encoding": {
         "x": {"datum": 5.0, "type": "quantitative", "scale": {"type": "log", "domain": [0.6, 142], "nice": false}, "axis": {"orient": "bottom", "values": [0.7, 0.8, 0.9, 2, 3, 4, 5, 6, 7, 8, 9, 20, 30, 40, 50, 60, 70, 80, 90], "tickSize": -4.5, "labels": false, "title": null}},
         "y": {"datum": -6.6, "type": "quantitative", "scale": {"domain": [-10, 10], "nice": false, "zero": false}, "axis": {"orient": "left", "values": [-9, -8, -7, -6, -4, -3, -2, -1, 1, 2, 3, 4, 6, 7, 8, 9], "tickSize": -4.5, "labels": false, "title": null}},
         "text": {"field": "t"}}},
      {"data": {"values": [{"t": "(e)"}]},
       "mark": {"type": "text", "font": "Liberation Serif", "fontSize": 17, "color": "black", "align": "left", "baseline": "middle"},
       "encoding": {
         "x": {"datum": 148, "type": "quantitative", "scale": {"type": "log", "domain": [0.6, 142], "nice": false}, "axis": {"orient": "top", "values": [0.7, 0.8, 0.9, 2, 3, 4, 5, 6, 7, 8, 9, 20, 30, 40, 50, 60, 70, 80, 90], "tickSize": -4.5, "labels": false, "title": null}},
         "y": {"datum": -0.7, "type": "quantitative", "scale": {"domain": [-10, 10], "nice": false, "zero": false}, "axis": {"orient": "right", "values": [-9, -8, -7, -6, -4, -3, -2, -1, 1, 2, 3, 4, 6, 7, 8, 9], "tickSize": -4.5, "labels": false, "title": null}},
         "text": {"field": "t"}}}
    ],
    "resolve": {"axis": {"x": "independent", "y": "independent"}}
  }
]
}
